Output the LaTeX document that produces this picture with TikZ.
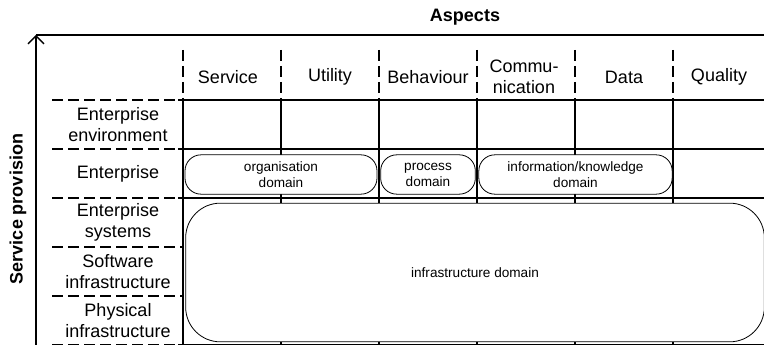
\documentclass[tikz,border=0pt]{standalone}
\usepackage{fontspec}
\setmainfont{Liberation Sans}
\usetikzlibrary{arrows.meta}

\begin{document}
\begin{tikzpicture}[x=0.75pt, y=-0.75pt,
    every node/.style={font=\fontsize{13.5}{15.75}\selectfont, align=center, inner sep=0pt},
    domainbox/.style={draw, line width=0.6pt, fill=white, rounded corners=12pt,
        font=\fontsize{10.2}{12}\selectfont, inner sep=0pt},
    sepline/.style={line width=1.7pt, dash pattern=on 8.5pt off 3.5pt},
    gridline/.style={line width=1.1pt},
    axis/.style={line width=1pt, -{Straight Barb[length=6pt, width=12pt]}}]
    \useasboundingbox (0,0) rectangle (764,345);

    % Axes
    \coordinate (origin) at (36,345);
    \coordinate (corner) at (36,35);
    \coordinate (far) at (776,35);
    \draw[axis] (origin) -- (corner);
    \draw[axis] (corner) -- (far);
    \node[font=\bfseries\fontsize{13.5}{15.75}\selectfont] (aspects) at (465,17) {Aspects};
    \node[font=\bfseries\fontsize{13.5}{15.75}\selectfont, rotate=90] (provision) at (18,209) {Service provision};

    % Column separators: dashed in the header, solid in the grid
    \foreach \cx in {183,281,379,477,575,673} {
        \draw[sepline] (\cx,50) -- (\cx,104);
        \draw[gridline] (\cx,100) -- (\cx,345);
    }

    % Row separators: dashed under the labels, solid in the grid
    \foreach \ry in {100,149,198,247,296,345}
        \draw[sepline] (52,\ry) -- (183,\ry);
    \foreach \ry in {100,149,198,345}
        \draw[gridline] (178,\ry) -- (764,\ry);

    % Column headers
    \node (service) at (228,77) {Service};
    \node (utility) at (330,77) {Utility};
    \node (behaviour) at (428,77) {Behaviour};
    \node (comm) at (524,77) {Commu-\\nication};
    \node (data) at (624,77) {Data};
    \node (quality) at (719,77) {Quality};

    % Row headers
    \node (environment) at (118,124.5) {Enterprise\\environment};
    \node (enterprise) at (118,174) {Enterprise};
    \node (systems) at (118,222.5) {Enterprise\\systems};
    \node (software) at (118,271.5) {Software\\infrastructure};
    \node (physical) at (118,320.5) {Physical\\infrastructure};

    % Domains
    \node[domainbox, minimum width=144pt, minimum height=29.5pt] (organisation) at (281,174.5) {organisation\\domain};
    \node[domainbox, minimum width=71pt, minimum height=29.5pt] (process) at (428,174.5) {process\\domain};
    \node[domainbox, minimum width=145pt, minimum height=29.5pt] (knowledge) at (575.5,174.5) {information/knowledge\\domain};
    \node[domainbox, rounded corners=26pt, minimum width=434pt, minimum height=104pt] (infrastructure) at (475,272.5) {infrastructure domain};
\end{tikzpicture}
\end{document}
